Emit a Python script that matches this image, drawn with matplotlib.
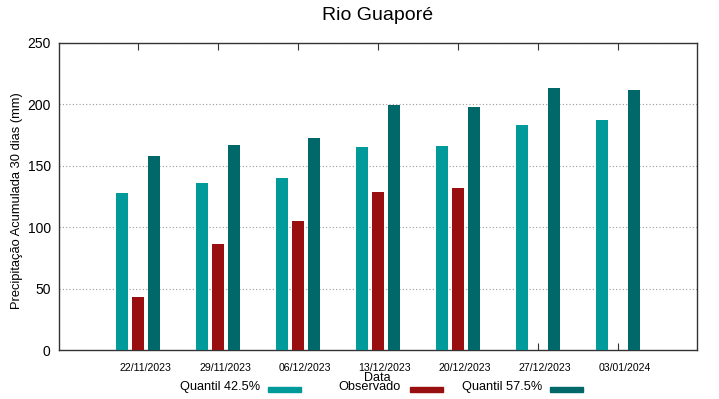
import matplotlib
matplotlib.use("Agg")
import matplotlib.pyplot as plt
from matplotlib.patches import Rectangle
from matplotlib.transforms import ScaledTranslation
import numpy as np

plt.rcParams['font.family'] = ['Liberation Sans', 'DejaVu Sans']

dates = ["22/11/2023", "29/11/2023", "06/12/2023", "13/12/2023",
         "20/12/2023", "27/12/2023", "03/01/2024"]
q425 = [128, 136, 140, 165.5, 166, 183.5, 187.5]
observado = [43, 86, 105, 128.5, 132, np.nan, np.nan]
q575 = [158, 167, 173, 199.5, 198, 213.5, 211.5]

series_names = ["Quantil 42.5%", "Observado", "Quantil 57.5%"]
colors = ["#009a9a", "#990f0f", "#006868"]

W, H = 719, 399
fig = plt.figure(figsize=(W / 100, H / 100), dpi=100)
ax = fig.add_axes([59 / W, 1 - 350 / H, (697 - 59) / W, (350 - 43) / H])

x = np.arange(len(dates))
bw = 0.158
off = 0.2
for i, (vals, c) in enumerate(zip([q425, observado, q575], colors)):
    ax.bar(x + (i - 1) * off, vals, width=bw, color=c, zorder=3)

ax.set_xlim(-0.9875, 6.9875)
ax.set_ylim(0, 250)
ax.set_yticks([0, 50, 100, 150, 200, 250])
ax.set_xticks(x)
ax.set_xticklabels(dates, fontsize=7.6)
ax.tick_params(axis='y', labelsize=10, direction='in', length=0, pad=6, right=False)
ax.tick_params(axis='x', direction='in', length=5, top=True, bottom=True, pad=9.5,
               color='#333333')
shift = ScaledTranslation(7 / 100, 0, fig.dpi_scale_trans)
for lab in ax.get_xticklabels():
    lab.set_transform(lab.get_transform() + shift)
ax.yaxis.grid(True, linestyle=(0, (1, 2)), color='#999999', linewidth=0.8, zorder=0)
for s in ax.spines.values():
    s.set_color('#333333')
    s.set_linewidth(1.0)

fig.text(17 / W, 1 - 201 / H, "Precipitação Acumulada 30 dias (mm)", rotation=90,
         ha='center', va='center', fontsize=9.3)
fig.text(377 / W, 1 - 378 / H, "Data", ha='center', va='center', fontsize=9)
fig.text(378 / W, 1 - 16 / H, "Rio Guaporé", ha='center', va='center', fontsize=14)

# legend (gnuplot style: text then sample)
text_right = [260, 401, 542]
sw_left = [268, 410, 550]
for name, c, tr, sl in zip(series_names, colors, text_right, sw_left):
    fig.text(tr / W, 1 - 387 / H, name, ha='right', va='center', fontsize=9.2)
    fig.patches.append(Rectangle((sl / W, 1 - 391.5 / H), 33 / W, 5 / H,
                                 transform=fig.transFigure, color=c))

fig.savefig("out.png", dpi=100)
